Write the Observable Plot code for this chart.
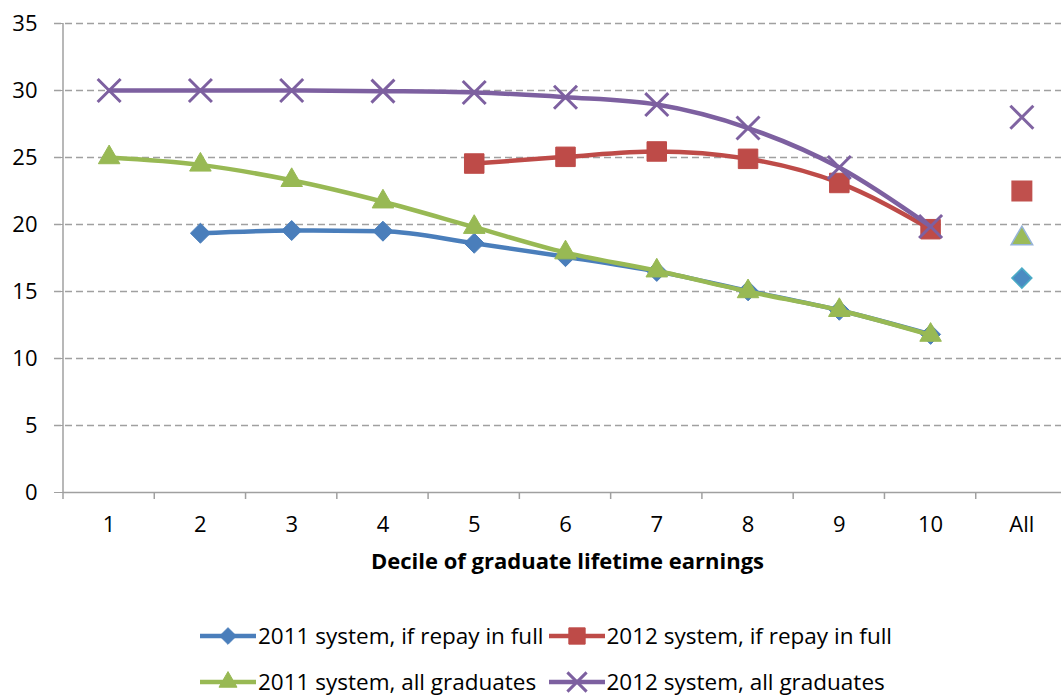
<!DOCTYPE html>
<html><head><meta charset="utf-8">
<script src="https://cdn.jsdelivr.net/npm/d3@7"></script>
<script src="https://cdn.jsdelivr.net/npm/@observablehq/plot@0.6"></script>
<style>
body{margin:0;background:#fff;font-family:"Open Sans", sans-serif;overflow:hidden;}
#legend{display:grid;grid-template-columns:auto auto;justify-content:center;column-gap:4px;row-gap:20px;margin-top:23px;font-size:22.5px;line-height:26px;color:#000;padding-left:30px;}
.item{display:flex;align-items:center;height:26px;white-space:nowrap;}
.item svg{margin-right:1px;}
</style></head><body>
<div id="chart"></div><div id="legend"></div>
<script>
const categories = ["1","2","3","4","5","6","7","8","9","10","All"];
const deciles = ["1","2","3","4","5","6","7","8","9","10"];
const seriesNames = ["2011 system, if repay in full","2012 system, if repay in full","2011 system, all graduates","2012 system, all graduates"];
const repay2011 = [null, 19.35, 19.55, 19.5, 18.6, 17.6, 16.5, 15.05, 13.6, 11.8];
const repay2012 = [null, null, null, null, 24.55, 25.05, 25.45, 24.9, 23.1, 19.65];
const all2011 = [25.0, 24.45, 23.3, 21.7, 19.8, 17.9, 16.55, 15.0, 13.6, 11.75];
const all2012 = [30.0, 30.0, 30.0, 29.95, 29.85, 29.5, 28.95, 27.2, 24.25, 19.85];
const allGraduatesPoint = [16.0, 22.5, 18.95, 28.0];
const yTicks = [0, 5, 10, 15, 20, 25, 30, 35];
const xTitle = "Decile of graduate lifetime earnings";

const values = [repay2011, repay2012, all2011, all2012];
const styles = [
  {color:"#4A7EBB", symbol:"diamond2", r:9, allFill:"#4A8BC2", allStroke:"#4BACC6"},
  {color:"#BE4B48", symbol:"square", r:11, allFill:"#C0504D", allStroke:"#C0504D"},
  {color:"#98B954", symbol:"triangle", r:8, allFill:"#9BBB59", allStroke:"#95B3D7"},
  {color:"#7D60A0", symbol:"times", r:10.5, allFill:"none", allStroke:"#8064A2"}
];

const marks = [
  Plot.ruleY(yTicks.filter(d => d > 0), {stroke:"#A0A0A0", strokeWidth:1.3, strokeDasharray:"7,4", insetLeft:-9}),
  Plot.ruleY([0], {stroke:"#A0A0A0", strokeWidth:1.5}),
  Plot.axisY({ticks: yTicks, tickSize: 9, tickPadding: 17, stroke:"#A0A0A0", fontSize: 22, fill:"#000", label:null}),
  Plot.axisX({tickSize: 0, tickPadding: 24, fontSize: 22, fill:"#000", label:null}),
  Plot.text([xTitle], {frameAnchor:"bottom", dy: 76, dx: 2, fontSize: 22, fontWeight:"bold", fill:"#000"})
];

values.forEach((vals, i) => {
  const s = styles[i];
  const rows = deciles.map((d, j) => ({decile: d, value: vals[j]})).filter(r => r.value != null);
  const isX = s.symbol === "times";
  marks.push(Plot.line(rows, {x:"decile", y:"value", stroke:s.color, strokeWidth:4.5, curve:"monotone-x"}));
  marks.push(Plot.dot(rows, {x:"decile", y:"value", symbol:s.symbol, r:s.r,
    fill: isX ? "none" : s.color, stroke: s.color, strokeWidth: isX ? 3 : 1}));
});
values.forEach((vals, i) => {
  const s = styles[i];
  const isX = s.symbol === "times";
  marks.push(Plot.dot([{cat:"All", value: allGraduatesPoint[i]}], {x:"cat", y:"value", symbol:s.symbol, r:s.r,
    fill: s.allFill, stroke: s.allStroke, strokeWidth: isX ? 3 : 1.5}));
});

const plot = Plot.plot({
  width: 1061, height: 600,
  marginLeft: 63, marginRight: -6, marginTop: 23, marginBottom: 108,
  style: {fontFamily: "'Open Sans', sans-serif", background:"#fff", overflow:"hidden"},
  x: {type:"band", domain: categories, padding: 0, round: false},
  y: {domain: [0, 35]},
  marks
});
document.getElementById("chart").appendChild(plot);

// Excel-style axis line and category boundary ticks from the Plot scales
const xs = plot.scale("x"), ys = plot.scale("y");
const svg = d3.select(plot);
const y0 = ys.apply(0), y35 = ys.apply(35);
const bw = xs.bandwidth;
const bounds = categories.map(c => xs.apply(c)).concat([xs.apply(categories[categories.length-1]) + bw]);
const g = svg.append("g").attr("stroke", "#A0A0A0").attr("stroke-width", 1.5);
g.append("line").attr("x1", xs.range[0]).attr("x2", xs.range[0]).attr("y1", y0).attr("y2", y35);
bounds.forEach(b => g.append("line").attr("x1", b).attr("x2", b).attr("y1", y0).attr("y2", y0 + 7));

// Legend
const legend = d3.select("#legend");
seriesNames.forEach((name, i) => {
  const s = styles[i];
  const item = legend.append("div").attr("class", "item");
  const isvg = item.append("svg").attr("width", 58).attr("height", 24);
  isvg.append("line").attr("x1", 1).attr("x2", 57).attr("y1", 12).attr("y2", 12).attr("stroke", s.color).attr("stroke-width", 4.5);
  const sym = {diamond2: d3.symbolDiamond2, square: d3.symbolSquare, triangle: d3.symbolTriangle, times: d3.symbolTimes}[s.symbol];
  const isX = s.symbol === "times";
  isvg.append("path").attr("transform", "translate(29,12)")
    .attr("d", d3.symbol(sym, Math.PI * s.r * s.r * 0.7)())
    .attr("fill", isX ? "none" : s.color).attr("stroke", s.color).attr("stroke-width", isX ? 3 : 1);
  item.append("span").text(name);
});
</script></body></html>
